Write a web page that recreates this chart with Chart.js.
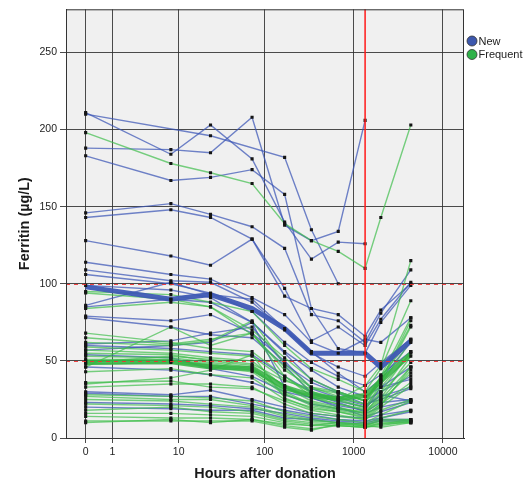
<!DOCTYPE html>
<html>
<head>
<meta charset="utf-8">
<script src="https://cdn.jsdelivr.net/npm/chart.js@4.4.1/dist/chart.umd.min.js"></script>
<style>
  html, body { margin: 0; padding: 0; background: #fff; }
  #wrap { width: 523px; height: 481px; }
</style>
</head>
<body>
<div id="wrap"><canvas id="chart" width="523" height="481"></canvas></div>
<script>
// sampling times (hours after donation)
const hours = [0, 8, 24, 72, 168, 336, 672, 1344, 2016, 4368];
const xTickLabels = [0, 1, 10, 100, 1000, 10000];
const yTickValues = [0, 50, 100, 150, 200, 250];
const referenceLevels = [50, 100];
const markerHours = 1344;

// ferritin per donor, one row per donor, null = no sample
const newDonors = [
  [210, null, 196, null, 182, 135, 100, null, null, null],
  [211, 184, 203, 181, 140, 116, 127, 126, null, null],
  [188, 187, 185, 208, 138, 128, 134, 206, null, null],
  [183, 167, 169, 174, 158, 84, 80, 66, 83, 100],
  [146, 152, 145, 137, 123, 80, 76, 62, 81, 109],
  [143, 148, 143, 129, 97, 63, 72, 60, 77, 101],
  [128, 118, 112, 129, 92, 84, 58, 55, 75, 99],
  [114, 106, 103, 91, 80, 62, 55, 64, 62, 78],
  [109, 102, 101, 88, 70, 55, 46, 40, 49, 64],
  [106, 100, 94, 82, 62, 49, 40, 34, 41, 56],
  [99, 96, 91, 75, 56, 44, 33, 27, 33, 46],
  [86, 101, 93, 90, 71, 56, 42, 30, 38, 62],
  [85, 90, 88, 75, 55, 38, 30, 24, 30, 40],
  [79, 76, 80, 68, 50, 32, 26, 21, 27, 33],
  [78, 72, 67, 65, 47, 29, 23, 17, 23, 25],
  [61, 63, 68, 72, 48, 36, 29, 22, 25, 32],
  [60, 58, 56, 54, 40, 30, 24, 20, 28, 24],
  [57, 60, 62, 75, 33, 26, 20, 14, 17, 23],
  [54, 52, 45, 40, 30, 26, 21, 18, 33, 38],
  [46, 44, 41, 36, 28, 22, 19, 16, 20, 24],
  [30, 28, 31, 25, 20, 16, 14, 13, 15, 18],
  [29, 27, 27, 22, 18, 15, 12, 11, 13, 17],
  [23, 22, 21, 19, 16, 13, 11, 10, 12, 12],
  [20, 19, 18, 18, 13, 12, 10, 9, 11, 11]
];

const frequentDonors = [
  [198, 178, 172, 165, 139, 128, 121, 110, 143, 203],
  [95, 93, 88, 82, 60, 45, 38, 30, 45, 89],
  [94, 90, 85, 70, 52, 38, 30, 24, 36, 72],
  [84, 88, 85, 67, 46, 30, 25, 20, 33, 55],
  [68, 62, 58, 56, 40, 27, 22, 19, 30, 56],
  [65, 61, 64, 68, 44, 33, 27, 22, 40, 64],
  [62, 60, 63, 76, 48, 33, 30, 24, 40, 78],
  [59, 57, 55, 53, 38, 30, 26, 22, 37, 76],
  [57, 55, 52, 50, 33, 24, 20, 16, 29, 49],
  [55, 54, 50, 47, 34, 26, 22, 18, 26, 53],
  [53, 52, 49, 46, 30, 22, 19, 17, 25, 46],
  [51, 51, 48, 45, 29, 21, 18, 15, 22, 44],
  [50, 50, 47, 44, 31, 28, 24, 20, 35, 63],
  [49, 53, 51, 48, 37, 32, 29, 24, 38, 73],
  [48, 49, 46, 43, 28, 23, 19, 16, 24, 42],
  [46, 72, 60, 68, 40, 29, 25, 34, 47, 115],
  [43, 45, 41, 39, 25, 20, 17, 14, 22, 36],
  [36, 37, 33, 32, 24, 18, 15, 12, 20, 34],
  [35, 39, 44, 54, 26, 19, 17, 13, 21, 46],
  [33, 35, 35, 33, 22, 16, 14, 12, 18, 25],
  [28, 27, 26, 24, 17, 14, 12, 10, 15, 24],
  [27, 25, 25, 21, 15, 12, 10, 9, 13, 18],
  [25, 24, 22, 20, 14, 11, 10, 8, 12, 12],
  [22, 21, 20, 17, 12, 10, 9, 8, 11, 11],
  [18, 20, 17, 16, 11, 9, 8, 7, 10, 10],
  [16, 16, 15, 14, 10, 8, 8, 7, 9, 10],
  [14, 13, 13, 12, 8, 6, 8, 7, 8, 11],
  [11, 11, 11, 11, 7, 5, 9, 8, 7, 10],
  [10, 12, 10, 12, 9, 8, 10, 9, 9, 12]
];

// group means
const newMean = [98, 90, 93, 84, 71, 55, 55, 55, 46, 63];
const frequentMean = [49, 49.5, 46, 45, 33, 27.5, 25.5, 27.5, 37, 54.5];

const groups = ['New', 'Frequent'];
const groupColors = ['#3d58ad', '#30b24a'];

// hours are plotted on log10(h + 1) so that 0 fits on the axis
const toX = (h) => Math.log10(h + 1);
const toPoints = (vals) => hours.map((h, i) => ({ x: toX(h), y: vals[i] }));

const lineSet = (vals, color, width) => ({
  data: toPoints(vals),
  borderColor: color,
  borderWidth: width,
  pointRadius: 0,
  spanGaps: true,
  tension: 0,
});

const allPoints = [];
newDonors.concat(frequentDonors).forEach((row) => {
  toPoints(row).forEach((p) => { if (p.y !== null) allPoints.push(p); });
});

// first dataset is painted last, so markers sit on top
const datasets = [
  { data: allPoints, showLine: false, pointStyle: 'rect', pointRadius: 2.2,
    pointBackgroundColor: '#151515', pointBorderWidth: 0 },
  lineSet(frequentMean, 'rgba(52,178,66,0.85)', 5),
  lineSet(newMean, 'rgba(62,88,180,0.95)', 5),
  ...frequentDonors.map((r) => lineSet(r, 'rgba(62,190,75,0.7)', 1.4)),
  ...newDonors.map((r) => lineSet(r, 'rgba(58,84,182,0.72)', 1.4)),
];

const decorations = {
  id: 'decorations',
  beforeDraw(chart) {
    const { ctx, chartArea: a } = chart;
    ctx.save();
    ctx.fillStyle = '#f0f0f0';
    ctx.fillRect(a.left, a.top, a.right - a.left, a.bottom - a.top);
    ctx.restore();
  },
  afterDatasetsDraw(chart) {
    const { ctx, chartArea: a, scales: { x, y } } = chart;
    ctx.save();
    // dashed reference levels
    ctx.strokeStyle = 'rgba(240,50,50,0.9)';
    ctx.lineWidth = 1;
    ctx.setLineDash([4, 4]);
    referenceLevels.forEach((v) => {
      const py = Math.round(y.getPixelForValue(v)) + 0.5;
      ctx.beginPath(); ctx.moveTo(a.left, py); ctx.lineTo(a.right, py); ctx.stroke();
    });
    ctx.setLineDash([]);
    // marker line at 8 weeks
    const px = x.getPixelForValue(toX(markerHours));
    ctx.strokeStyle = '#ff1a1a';
    ctx.lineWidth = 1.5;
    ctx.beginPath(); ctx.moveTo(px, a.top); ctx.lineTo(px, a.bottom); ctx.stroke();
    ctx.restore();
  },
  afterDraw(chart) {
    const { ctx, chartArea: a } = chart;
    ctx.save();
    // frame
    ctx.strokeStyle = '#333';
    ctx.lineWidth = 1;
    ctx.strokeRect(a.left + 0.5, a.top + 0.5, a.right - a.left - 1, a.bottom - a.top);
    // legend
    ctx.font = '11px "Liberation Sans", Arial, sans-serif';
    ctx.textBaseline = 'middle';
    groups.forEach((g, i) => {
      const cy = 41 + i * 13.5;
      ctx.beginPath();
      ctx.arc(472, cy, 5, 0, Math.PI * 2);
      ctx.fillStyle = groupColors[i];
      ctx.fill();
      ctx.strokeStyle = '#333';
      ctx.lineWidth = 0.8;
      ctx.stroke();
      ctx.fillStyle = '#222';
      ctx.fillText(g, 478.5, cy + 0.5);
    });
    ctx.restore();
  },
};

const tickFont = { family: '"Liberation Sans", Arial, sans-serif', size: 10.5 };
const titleFont = { family: '"Liberation Sans", Arial, sans-serif', size: 14.4, weight: 'bold', lineHeight: 1 };

new Chart(document.getElementById('chart'), {
  type: 'line',
  data: { datasets },
  plugins: [decorations],
  options: {
    responsive: false,
    animation: false,
    layout: { padding: { left: 0, right: 59, top: 7, bottom: 0 } },
    plugins: { legend: { display: false }, tooltip: { enabled: false } },
    scales: {
      x: {
        type: 'linear',
        min: -0.22,
        max: 4.236,
        afterFit: (s) => { s.height = 43; },
        afterBuildTicks: (s) => { s.ticks = xTickLabels.map((v) => ({ value: toX(v) })); },
        ticks: {
          padding: 3,
          color: '#222',
          font: tickFont,
          callback: (val, i) => String(xTickLabels[i]),
        },
        grid: { color: 'rgba(45,45,45,0.85)', lineWidth: 1, tickLength: 5 },
        border: { color: '#222', width: 1 },
        title: {
          display: true,
          text: 'Hours after donation',
          color: '#1a1a1a',
          font: titleFont,
          padding: { top: 0, bottom: 0 },
        },
      },
      y: {
        min: 0,
        max: 278,
        afterFit: (s) => { s.width = 66; },
        afterBuildTicks: (s) => { s.ticks = yTickValues.map((v) => ({ value: v })); },
        ticks: {
          padding: 3,
          color: '#222',
          font: tickFont,
        },
        grid: { color: 'rgba(45,45,45,0.85)', lineWidth: 1, tickLength: 6 },
        border: { color: '#222', width: 1 },
        title: {
          display: true,
          text: 'Ferritin (µg/L)',
          color: '#1a1a1a',
          font: titleFont,
          padding: { top: 18, bottom: 0 },
        },
      },
    },
  },
});
</script>
</body>
</html>
